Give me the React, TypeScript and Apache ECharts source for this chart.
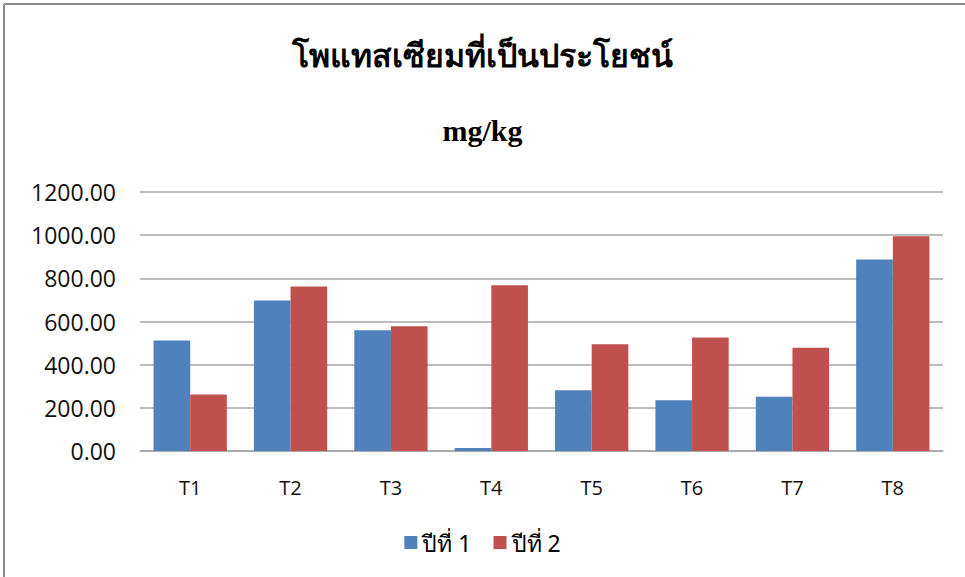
import React, { useEffect, useRef } from "react";
import * as echarts from "echarts";

const categories = ["T1", "T2", "T3", "T4", "T5", "T6", "T7", "T8"];
const year1 = [512, 697, 560, 14, 281, 235, 251, 887];
const year2 = [262, 762, 578, 768, 495, 526, 478, 995];
const seriesNames = ["ปีที่ 1", "ปีที่ 2"];
const titleText = "โพแทสเซียมที่เป็นประโยชน์";
const subtitleText = "mg/kg";

export default function App() {
  const ref = useRef<HTMLDivElement>(null);
  useEffect(() => {
    if (!ref.current) return;
    const chart = echarts.init(ref.current, undefined, { renderer: "svg" });
    chart.setOption({
      animation: false,
      backgroundColor: "#ffffff",
      title: [
        {
          text: titleText,
          left: "center",
          top: 35,
          textStyle: {
            fontFamily: "'Liberation Serif', 'Noto Sans', serif",
            fontSize: 32,
            fontWeight: "bold",
            color: "#000",
          },
        },
        {
          text: subtitleText,
          left: "center",
          top: 110,
          textStyle: {
            fontFamily: "'Liberation Serif', serif",
            fontSize: 30,
            fontWeight: "bold",
            color: "#000",
          },
        },
      ],
      legend: {
        bottom: 18,
        left: "center",
        itemWidth: 13,
        itemHeight: 13,
        itemGap: 22,
        icon: "rect",
        textStyle: {
          fontFamily: "'Noto Sans', 'DejaVu Sans', sans-serif",
          fontSize: 23,
          color: "#000",
        },
        data: seriesNames,
      },
      grid: { left: 140, right: 22, top: 192, bottom: 126, containLabel: false },
      xAxis: {
        type: "category",
        data: categories,
        axisLine: { lineStyle: { color: "#a6a6a6", width: 1.5 } },
        axisTick: { show: false },
        axisLabel: {
          fontFamily: "'Open Sans', 'Noto Sans', sans-serif",
          fontSize: 20,
          color: "#111",
          margin: 26,
        },
      },
      yAxis: {
        type: "value",
        min: 0,
        max: 1200,
        interval: 200,
        axisLine: { show: false },
        axisTick: { show: false },
        axisLabel: {
          formatter: (v: number) => v.toFixed(2),
          fontFamily: "'Open Sans', 'Noto Sans', sans-serif",
          fontSize: 23,
          color: "#111",
          margin: 24,
        },
        splitLine: { lineStyle: { color: "#a6a6a6", width: 1.5 } },
      },
      series: [
        {
          name: seriesNames[0],
          type: "bar",
          data: year1,
          barGap: "0%",
          barCategoryGap: "27%",
          itemStyle: { color: "#4F81BD" },
        },
        {
          name: seriesNames[1],
          type: "bar",
          data: year2,
          barGap: "0%",
          barCategoryGap: "27%",
          itemStyle: { color: "#C0504D" },
        },
      ],
      graphic: [
        {
          type: "line",
          shape: { x1: 4, y1: 4, x2: 965, y2: 4 },
          style: { stroke: "#8c8c8c", lineWidth: 2 },
        },
        {
          type: "line",
          shape: { x1: 4, y1: 4, x2: 4, y2: 577 },
          style: { stroke: "#8c8c8c", lineWidth: 2 },
        },
      ],
    });
    return () => chart.dispose();
  }, []);
  return (
    <div
      ref={ref}
      style={{ width: 965, height: 577, position: "absolute", left: 0, top: 0 }}
    />
  );
}
